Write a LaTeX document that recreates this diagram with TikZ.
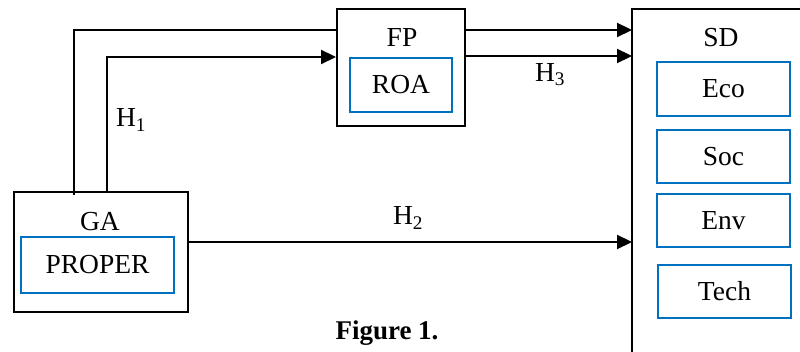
\documentclass[tikz,border=0pt]{standalone}
\usepackage{fontspec}
\setmainfont{Liberation Serif}
\usetikzlibrary{arrows.meta,calc}
\definecolor{wblue}{RGB}{0,112,192}
\tikzset{
  outerbox/.style={draw=black, line width=1.5pt, inner sep=0pt, outer sep=0pt},
  bluebox/.style={draw=wblue, line width=2.6pt, inner sep=0pt, outer sep=0pt, font=\fontsize{27.5}{29}\selectfont},
  lbl/.style={inner sep=0pt, font=\fontsize{27.5}{29}\selectfont},
  arr/.style={line width=2.2pt, -{Triangle[length=15pt,width=14pt]}},
  thin/.style={line width=1.5pt}
}
\begin{document}
\begin{tikzpicture}[x=1pt,y=-1pt]
\clip (0,0) rectangle (800,352);
\fill[white] (0,0) rectangle (800,352);
% boxes
\node[outerbox, minimum width=174pt, minimum height=120pt] (GA) at (101,252) {};
\node[lbl] (GAt) at (100,222) {GA};
\node[bluebox, minimum width=153pt, minimum height=56pt] (PROPER) at (97.5,265) {PROPER};
\node[outerbox, minimum width=128pt, minimum height=117pt] (FP) at (401,67.5) {};
\node[lbl] (FPt) at (402,38) {FP};
\node[bluebox, minimum width=102pt, minimum height=54pt] (ROA) at (401,85) {ROA};
\node[outerbox, minimum width=220pt, minimum height=420pt, anchor=north west] (SD) at (632,9) {};
\node[lbl] (SDt) at (721,38) {SD};
\node[bluebox, minimum width=133pt, minimum height=54pt] (Eco) at (723.5,89) {Eco};
\node[bluebox, minimum width=133pt, minimum height=53pt] (Soc) at (723.5,156.5) {Soc};
\node[bluebox, minimum width=133pt, minimum height=53pt] (Env) at (723.5,220.5) {Env};
\node[bluebox, minimum width=133pt, minimum height=53pt] (Tech) at (724.5,291.5) {Tech};
% connectors
\coordinate (t1) at ($(GA.north west)+(60,3)$);
\coordinate (t2) at ($(FP.north west)+(0,21)$);
\draw[thin] (t1) |- (t2);
\coordinate (h1s) at ($(GA.north west)+(93,0)$);
\coordinate (h1e) at ($(FP.north west)+(-1,48)$);
\draw[arr] (h1s) |- (h1e);
\coordinate (f1) at ($(FP.north east)+(0,21)$);
\coordinate (f2) at ($(FP.north east)+(0,47)$);
\draw[arr] (f1) -- (f1 -| SD.west);
\draw[arr] (f2) -- (f2 -| SD.west);
\coordinate (g1) at ($(GA.north east)+(0,50)$);
\draw[arr] (g1) -- (g1 -| SD.west);
% labels
\node[lbl] (H1) at (131,120) {H\textsubscript{1}};
\node[lbl] (H2) at (408,218) {H\textsubscript{2}};
\node[lbl] (H3) at (550,75) {H\textsubscript{3}};
\node[lbl, font=\fontsize{27}{29}\selectfont\bfseries] (fig) at (387,333) {Figure 1.};
\end{tikzpicture}
\end{document}
